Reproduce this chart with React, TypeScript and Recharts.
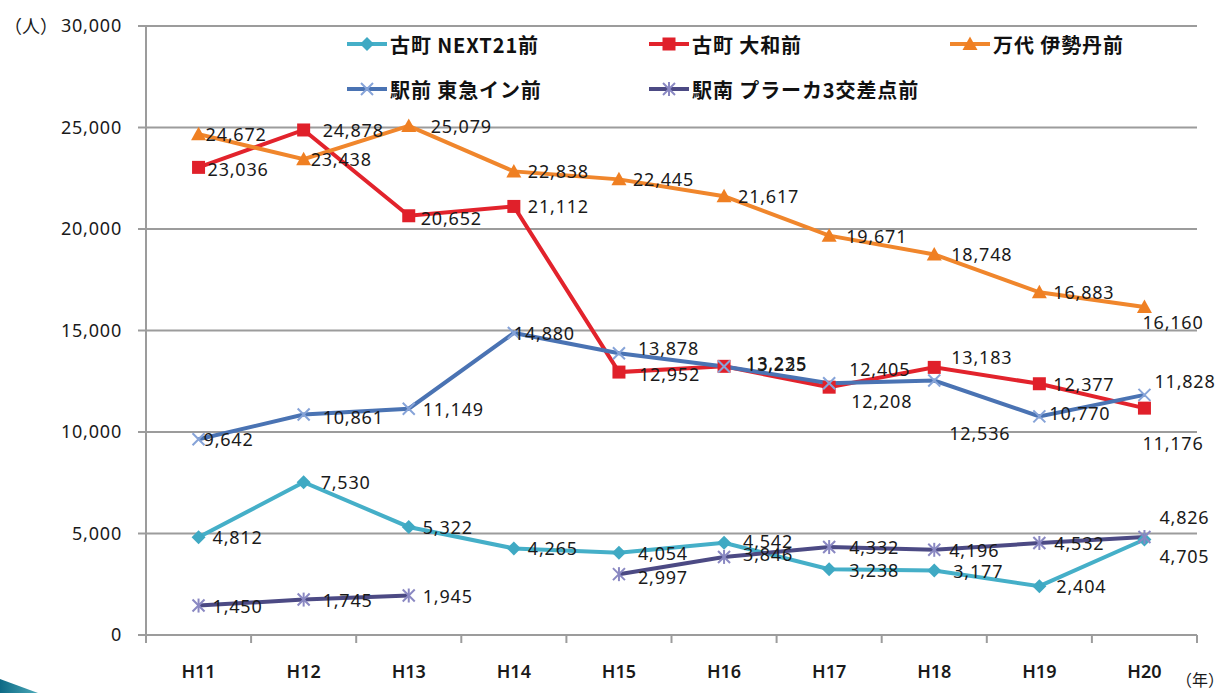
import React from 'react';
import { LineChart, Line, XAxis, YAxis, CartesianGrid, LabelList } from 'recharts';

// 年度（平成）
const categories = ['H11', 'H12', 'H13', 'H14', 'H15', 'H16', 'H17', 'H18', 'H19', 'H20'];

// 歩行者通行量（人）
const next21 = [4812, 7530, 5322, 4265, 4054, 4542, 3238, 3177, 2404, 4705];
const daiwa = [23036, 24878, 20652, 21112, 12952, 13235, 12208, 13183, 12377, 11176];
const isetan = [24672, 23438, 25079, 22838, 22445, 21617, 19671, 18748, 16883, 16160];
const tokyu = [9642, 10861, 11149, 14880, 13878, 13225, 12405, 12536, 10770, 11828];
const placa = [1450, 1745, 1945, null, 2997, 3846, 4332, 4196, 4532, 4826];

const yTicks = [0, 5000, 10000, 15000, 20000, 25000, 30000];

const W = 1225;
const H = 693;
const PLOT_LEFT = 146;
const PLOT_RIGHT = 1197;
const PLOT_TOP = 26;
const PLOT_BOTTOM = 635;
const BAND = (PLOT_RIGHT - PLOT_LEFT) / categories.length;

const FONT = '"Noto Sans", "Noto Sans CJK JP", sans-serif';
const JP = '"Noto Sans CJK JP", "Noto Sans", sans-serif';
const GRID = '#9c9c9c';

const data = categories.map((cat, i) => ({
  cat,
  next21: next21[i],
  daiwa: daiwa[i],
  isetan: isetan[i],
  tokyu: tokyu[i],
  placa: placa[i],
}));

const series = [
  { key: 'next21', name: '古町 NEXT21前', color: '#45AFC8', mark: '#3FA9C3', shape: 'diamond' },
  { key: 'daiwa', name: '古町 大和前', color: '#E2232C', mark: '#E0202A', shape: 'square' },
  { key: 'isetan', name: '万代 伊勢丹前', color: '#F0862C', mark: '#EF7F22', shape: 'triangle' },
  { key: 'tokyu', name: '駅前 東急イン前', color: '#4A73B3', mark: '#86A3D8', shape: 'cross' },
  { key: 'placa', name: '駅南 プラーカ3交差点前', color: '#4C4A84', mark: '#8A88C2', shape: 'star' },
];

// label offsets (text left edge from point), keyed series-index
const LABEL_OFFSETS: Record<string, [number, number]> = {
  'isetan-0': [7, 0], 'isetan-1': [7, 0], 'isetan-2': [22, 0], 'isetan-6': [17, 0],
  'isetan-7': [17, 0], 'isetan-9': [-2, 15],
  'daiwa-0': [9, 2], 'daiwa-1': [19, 0], 'daiwa-2': [12, 2], 'daiwa-4': [20, 2],
  'daiwa-5': [22, -3], 'daiwa-6': [22, 14], 'daiwa-7': [17, -10], 'daiwa-9': [-2, 35],
  'tokyu-0': [5, 0], 'tokyu-1': [19, 2], 'tokyu-3': [0, 0], 'tokyu-4': [19, -5],
  'tokyu-5': [22, -3], 'tokyu-6': [20, -14], 'tokyu-7': [15, 52], 'tokyu-8': [10, -3],
  'tokyu-9': [10, -14],
  'next21-1': [17, 0], 'next21-4': [19, 0], 'next21-5': [19, -2], 'next21-6': [20, 1],
  'next21-7': [19, 0], 'next21-8': [17, 0], 'next21-9': [15, 17],
  'placa-1': [19, 0], 'placa-4': [19, 3], 'placa-5': [19, -3], 'placa-6': [20, 0],
  'placa-7': [15, 0], 'placa-8': [15, 0], 'placa-9': [15, -20],
};

const Marker = ({ shape, x, y, color }: { shape: string; x: number; y: number; color: string }) => {
  if (shape === 'diamond') {
    return <polygon points={`${x},${y - 7} ${x + 7},${y} ${x},${y + 7} ${x - 7},${y}`} fill={color} />;
  }
  if (shape === 'square') {
    return <rect x={x - 6.5} y={y - 6.5} width={13} height={13} fill={color} />;
  }
  if (shape === 'triangle') {
    return <polygon points={`${x},${y - 7.5} ${x + 7.5},${y + 6} ${x - 7.5},${y + 6}`} fill={color} />;
  }
  if (shape === 'cross') {
    return (
      <g stroke={color} strokeWidth={2}>
        <line x1={x - 6} y1={y - 6} x2={x + 6} y2={y + 6} />
        <line x1={x - 6} y1={y + 6} x2={x + 6} y2={y - 6} />
      </g>
    );
  }
  return (
    <g stroke={color} strokeWidth={2}>
      <line x1={x - 6} y1={y - 6} x2={x + 6} y2={y + 6} />
      <line x1={x - 6} y1={y + 6} x2={x + 6} y2={y - 6} />
      <line x1={x} y1={y - 7} x2={x} y2={y + 7} />
    </g>
  );
};

const makeDot = (shape: string, color: string, skey: string) => (props: any) => {
  const { cx, cy, index, value } = props;
  if (cx == null || cy == null || value == null) return <g key={`${skey}-${index}`} />;
  return (
    <g key={`${skey}-${index}`}>
      <Marker shape={shape} x={cx} y={cy} color={color} />
    </g>
  );
};

const makeLabel = (skey: string) => (props: any) => {
  const { x, y, value, index } = props;
  if (value == null || x == null || y == null) return null;
  const [dx, dy] = LABEL_OFFSETS[`${skey}-${index}`] || [14, 0];
  return (
    <text
      x={x + dx}
      y={y + dy}
      dominantBaseline="central"
      fontFamily={FONT}
      fontSize={18}
      letterSpacing={0.8}
      fill="#1a1a1a"
    >
      {Number(value).toLocaleString('en-US')}
    </text>
  );
};

const XTick = (props: any) => {
  const { x, payload, index } = props;
  const left = x - BAND / 2;
  return (
    <g>
      <line x1={left} y1={PLOT_BOTTOM} x2={left} y2={PLOT_BOTTOM + 8} stroke={GRID} strokeWidth={2} />
      {index === categories.length - 1 && (
        <line x1={x + BAND / 2} y1={PLOT_BOTTOM} x2={x + BAND / 2} y2={PLOT_BOTTOM + 8} stroke={GRID} strokeWidth={2} />
      )}
      <text
        x={x}
        y={PLOT_BOTTOM + 36}
        textAnchor="middle"
        dominantBaseline="central"
        fontFamily={FONT}
        fontSize={18}
        fontWeight={600}
        fill="#1a1a1a"
      >
        {payload.value}
      </text>
    </g>
  );
};

const legendPos = [
  { left: 347, top: 44 },
  { left: 649, top: 44 },
  { left: 950, top: 44 },
  { left: 347, top: 89 },
  { left: 649, top: 89 },
];

const LegendItems = () => (
  <>
    {series.map((s, i) => (
      <div
        key={s.key}
        style={{
          position: 'absolute',
          left: legendPos[i].left,
          top: legendPos[i].top - 14,
          height: 28,
          display: 'flex',
          alignItems: 'center',
          whiteSpace: 'nowrap',
        }}
      >
        <svg width={42} height={20} style={{ display: 'block' }}>
          <line x1={0} y1={10} x2={40} y2={10} stroke={s.color} strokeWidth={4} />
          <Marker shape={s.shape} x={20} y={10} color={s.mark} />
        </svg>
        <span
          style={{
            fontFamily: JP,
            fontSize: 20,
            fontWeight: 700,
            color: '#111',
            letterSpacing: 0.9,
            marginLeft: 1,
          }}
        >
          {s.name}
        </span>
      </div>
    ))}
  </>
);

export default function App() {
  return (
    <div style={{ position: 'absolute', left: 0, top: 0, width: W, height: H, background: '#fff', overflow: 'hidden' }}>
      <LineChart
        width={W}
        height={H}
        data={data}
        margin={{ top: PLOT_TOP, right: W - PLOT_RIGHT, bottom: 0, left: 0 }}
      >
        <CartesianGrid horizontal vertical={false} stroke={GRID} strokeWidth={2} />
        <XAxis
          dataKey="cat"
          height={H - PLOT_BOTTOM}
          padding={{ left: BAND / 2, right: BAND / 2 }}
          axisLine={{ stroke: GRID, strokeWidth: 2 }}
          tickLine={false}
          tick={<XTick />}
          interval={0}
        />
        <YAxis
          width={PLOT_LEFT}
          domain={[0, 30000]}
          ticks={yTicks}
          interval={0}
          axisLine={{ stroke: GRID, strokeWidth: 2 }}
          tickLine={{ stroke: GRID, strokeWidth: 2 }}
          tickSize={8}
          tickMargin={16}
          tick={{ fontFamily: FONT, fontSize: 18, fill: '#1a1a1a', letterSpacing: 0.8 }}
          tickFormatter={(v: number) => v.toLocaleString('en-US')}
        />
        {series.map((s) => (
          <Line
            key={s.key}
            dataKey={s.key}
            stroke={s.color}
            strokeWidth={4}
            dot={makeDot(s.shape, s.mark, s.key)}
            activeDot={false}
            isAnimationActive={false}
            connectNulls={false}
          >
            <LabelList dataKey={s.key} content={makeLabel(s.key)} />
          </Line>
        ))}
      </LineChart>

      <LegendItems />

      <div style={{ position: 'absolute', left: 4, top: 12, fontFamily: JP, fontSize: 18, color: '#1a1a1a' }}>
        （人）
      </div>
      <div style={{ position: 'absolute', left: 1176, top: 669, fontFamily: JP, fontSize: 16, lineHeight: '20px', color: '#1a1a1a' }}>
        （年）
      </div>
      <svg width={60} height={20} style={{ position: 'absolute', left: 0, top: 673 }}>
        <defs>
          <linearGradient id="swoosh" x1="0" y1="0" x2="1" y2="0">
            <stop offset="0%" stopColor="#0E6A86" />
            <stop offset="100%" stopColor="#4BA9B8" />
          </linearGradient>
        </defs>
        <polygon points="0,6 38,20 0,20" fill="url(#swoosh)" />
      </svg>
    </div>
  );
}
